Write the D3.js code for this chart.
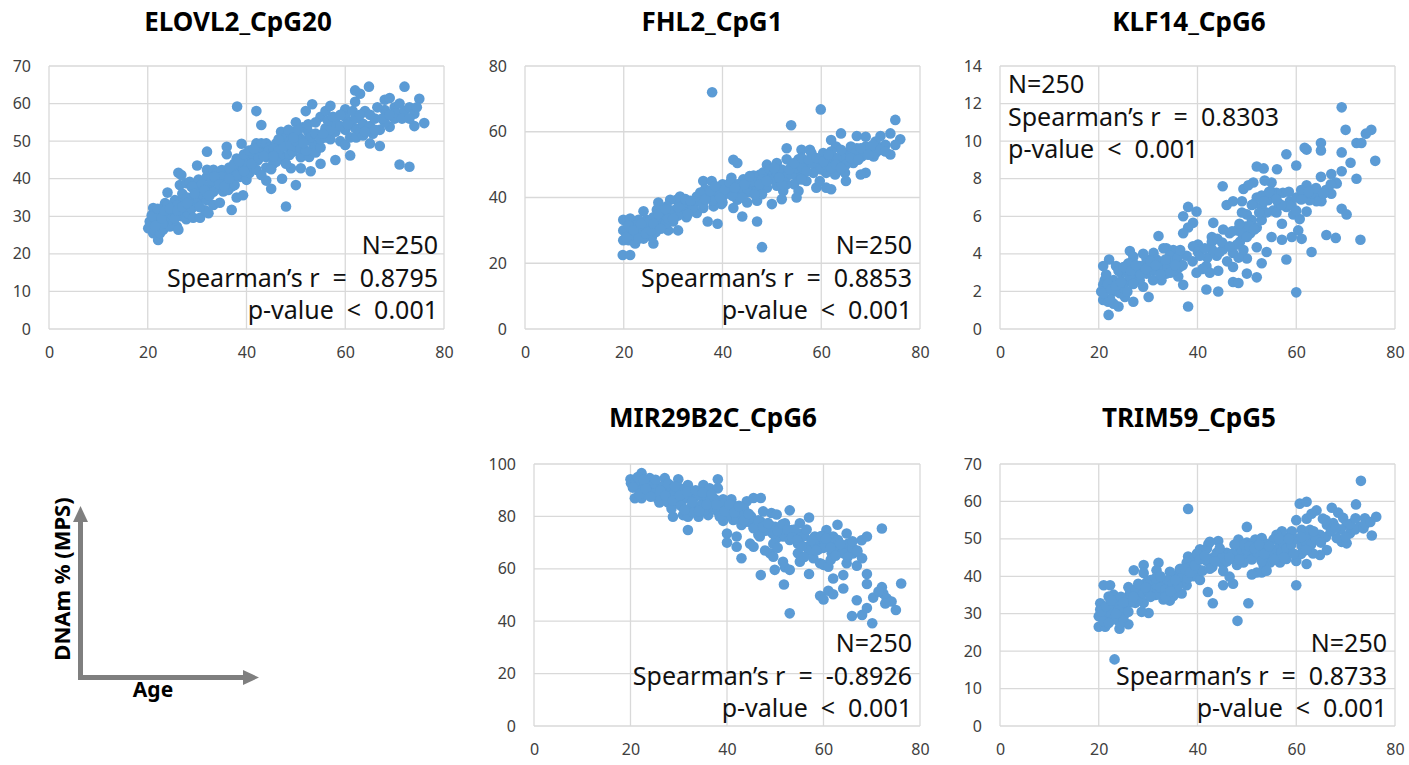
<!DOCTYPE html>
<html>
<head>
<meta charset="utf-8">
<script src="https://cdn.jsdelivr.net/npm/d3@7"></script>
<style>
  body { margin: 0; background: #fff; }
  text { font-family: "Noto Sans", "Open Sans", sans-serif; }
</style>
</head>
<body>
<svg id="chart" width="1409" height="765"></svg>
<script>
// panel titles, axis maxima and stats
const titles = ['ELOVL2_CpG20', 'FHL2_CpG1', 'KLF14_CpG6', 'MIR29B2C_CpG6', 'TRIM59_CpG5'];
const yMax = [70, 80, 14, 100, 70];
const yStep = [10, 20, 2, 20, 10];
const xTicks = [0, 20, 40, 60, 80];
const nLabel = 'N=250';
const rhoValues = ['0.8795', '0.8853', '0.8303', '-0.8926', '0.8733'];
const pLabel = 'p-value  <  0.001';

// [age, DNAm %]
const elovl2Pts = [
  [20.1,26.8],[20.4,28.6],[20.8,30.3],[21.1,32.2],[21.1,25.5],[21.4,26.4],[21.9,29.5],[22.1,23.7],[22.5,28.2],[22.5,30.8],
  [22.5,25.5],[23.1,26.4],[23.1,31.7],[23.5,33.5],[23.8,29],[24.2,30],[24,36.3],[24.5,27.3],[25.2,31.3],[25.2,28.6],
  [25.5,34.3],[25.9,27.3],[26.2,26.4],[26.2,41.6],[26.5,32.6],[26.5,38.3],[26.8,41],[26.8,30],[27.2,34.3],[27.5,31.6],
  [27.8,38.8],[27.8,29.2],[28.2,30.8],[28.5,39.2],[28.9,37.8],[28.9,32.1],[29.2,29.6],[29.2,34.3],[30,36.5],[30.3,34.3],
  [30.3,39.8],[30,43.5],[30.6,37.8],[30.6,29.6],[31.2,35.6],[31.6,31.6],[32,34.3],[32,40.6],[32,42.4],[32,47.2],
  [32.3,30.8],[32.6,38.3],[33.3,42.4],[33.3,33],[33.3,36.5],[34,41.5],[34,39.3],[34.6,33.6],[34.6,37.4],[34.6,41.1],
  [35,42.3],[35.3,36.6],[36,39.7],[36,48.5],[36,46.5],[36.3,37],[36.6,41.5],[37,31.7],[37,37.9],[37.3,39.7],
  [37.3,42.4],[37.6,38.3],[38,35],[38,45.4],[38.1,59.2],[38.3,43.2],[38.7,40.5],[39,41.5],[39,49.3],[39.3,35.6],
  [39.3,44.5],[40,39.7],[40,45.8],[40.3,43.6],[40.6,41.5],[41.3,45.8],[41.3,43.2],[41.3,46.6],[42,42.4],[42,49.4],
  [42,58],[42.3,44.9],[43,49.4],[43,54.3],[43.4,47.5],[44,43],[44,45.8],[44,49.4],[44.7,46.6],[44.7,48.4],
  [45,37.3],[45.4,44],[46,47],[46,49.4],[46.7,45.8],[47,52.5],[47.2,40],[47.4,45.8],[47.4,50],[48,32.6],
  [48,48.5],[48,51],[48.7,46.3],[48.7,50],[49,42.8],[49.4,52.5],[49.4,47.2],[50,38.3],[50,48.5],[50,55],
  [50.7,51],[51,45.7],[51,42.8],[51.4,53.7],[52,50.2],[52,58],[52.5,52.5],[52.7,45.8],[53,42],[53.3,59.8],
  [53.5,49.3],[53.5,47.5],[54,47],[55,44],[55,48.3],[55,56.5],[56,58],[56,53.4],[57,59.4],[57,50.5],
  [58,45],[58,52.5],[59,50],[60,49],[60,53],[60,58.5],[60,56.4],[61,46.2],[61,51],[62,53.4],
  [62,63.5],[62,60.5],[62.2,51],[63,62.6],[63,52.5],[63.6,54.6],[63.6,51.5],[64,58],[64.8,64.5],[65,54],
  [65,49.4],[65.6,52],[66,56],[67,53],[67,48.7],[68,61],[68,58.3],[69,61.5],[69,53.8],[70,59],
  [70.3,57.5],[71,43.8],[72,64.5],[72,58],[73,59],[73,43.2],[74,57.3],[74,54],[75,61.3],[76,54.8],
  [21,30],[22,32],[23,28],[24,33],[25,30.5],[26,33],[27,36],[28,35],[29,38],[31,38.5],
  [33,39.5],[35,40.5],[36.5,43],[38,41],[39.5,42],[41,44],[42.5,47],[44.5,47.5],[45.5,48],[46.5,47.5],
  [47.5,48.5],[49,49],[50,50],[51,48],[52,47.5],[53,51],[54,52],[55,50.5],[56,51],[57,53],
  [58,55],[59,54],[61,55],[62,56],[64,52.5],[66,53],[68,55],[70,56],[48,44],[46,44.5],
  [45,42.5],[43,41],[44,39.5],
  [21.5,27.5],[22.8,29.5],[23.5,31.5],[24.5,32],[25.5,29.5],[26,31.5],[27,32.5],[28,33.5],[29.5,36],[30.5,32.5],
  [31.5,37],[32.5,35.5],[33.5,40.5],[34.5,38.5],[35.5,38],[36.5,40],[37.5,44],[38.5,44.5],[39.5,46.5],[40.5,47.5],
  [41.5,48],[42.5,45.5],[43.5,46],[45.5,46],[46.5,50.5],[48.5,53],[49.5,51],[50.5,53],[51.5,49.5],[52.5,54.5],
  [54,55],[55.5,52],[56.5,55.5],[57.5,56.5],[59,57],[60.5,54.5],[61.5,58],[63,57],[65,57],[66.5,59],
  [67.5,56],[69,57],[71,60],[71.5,56],[73,56],[74.5,59]
];

const fhl2Pts = [
  [37.9,72],[59.9,66.8],[53.9,62],[75,63.6],[76,57.7],[74,59.5],[74,53.1],[72,58.7],[71,57],[69,58.5],
  [67.2,58.7],[64,59.5],[62,57.5],[67.2,55],[69,55.5],[70,54],[71.3,55],[72.6,55.5],[68.2,52.5],[66.5,50.5],
  [69,47.5],[68,47],[65,45],[64.8,47.5],[63,55.5],[65,53.5],[60.4,53.5],[61.8,51.6],[59,43],[61,43],
  [62,42.5],[61,47.5],[62.8,47],[59,49.5],[57,50],[56,54.5],[57.7,54.5],[53,55],[55.4,51.6],[54,49.5],
  [53,51.6],[49,50],[51,50.5],[56.4,47.5],[55,46.5],[54.5,44],[55.4,42],[55,40],[52.3,42],[52,39.5],
  [50,38],[53,44],[51,45],[49.3,46],[47.6,47],[47,44.5],[46.3,43],[47,39],[47,32.7],[48,24.9],
  [44,34.2],[43,39.3],[42.2,36.8],[42.2,51.5],[43,50.5],[41.8,46],[45,44],[45,38.5],[43.5,42],[44.2,45.5],
  [40.2,43.3],[39.8,38],[38.8,41.3],[38.2,37.3],[36.1,45],[37.8,45],[37,32.7],[39,32],[36.1,39.3],[34.8,40.3],
  [34.1,38.3],[33.4,36.3],[32,35.3],[32.7,34],[31,30],[29,30],[31.4,40.3],[30.7,39.3],[29.4,39.3],[28.7,37.3],
  [27,38.5],[26.7,36.3],[29,34.2],[30,32.7],[26,26],[25.7,28],[24,35.8],[24.6,33.2],[23,33.2],[21.9,31],
  [21.3,29],[21,27],[19.9,33.2],[21.3,33.6],[19.9,30],[19.9,27],[19.8,22.5],[21.3,22.5],[22.3,26],[23.3,28],
  [25.3,31],[27.7,33.2],[34.8,35.3],[36.1,36.8],[37.5,40.3],[40.9,41.6],[40.2,40.6],[42.2,42.6],[46.3,46.7],[48.3,47.7],
  [49.6,48.6],[50.3,47],[51,43.6],[53,47.5],[52.3,45.5],[57,45],[58.4,47.5],[59.7,45],[63.8,50.5],[64.5,52.5],
  [65.8,52.5],[70.6,52.5],
  [22,28.5],[23.5,30],[24.5,30.5],[25,32.5],[26,34],[27,33],[28,35],[28.5,32],[30,36],[31,34.5],
  [32,37.5],[33,38.5],[34,37],[35,39],[36,38],[37,40.5],[38,39],[39,42],[40,38.5],[41,43],
  [42,40.5],[43,44],[44,42.5],[45,41.5],[46,45],[47,42],[48,45.5],[49,43],[50,45.5],[51,47.5],
  [52,48.5],[53,46.5],[54,47],[55,49],[56,49.5],[57,48],[58,50.5],[60,48.5],[61,50],[62,49],
  [63,52],[64,54.5],[66,55.5],[67,53.5],[68,55],[70,55.5],[71,53.5],[73,56],[22.5,31.5],[24,27.5],
  [26.5,29.5],[29,33.5],[33,35],[36.5,42.5],[40,44],[44,40],[48,41],[52,44],[56,45.5],[58,53.5],
  [62,54],[65,50],
  [20.5,28],[21,31.5],[22,30],[23,27.5],[23.5,32],[24.5,29],[25.5,30],[26,32],[27,35],[27.5,30.5],
  [28.5,36.5],[30,33.5],[31,37],[32.5,39.5],[33.5,39],[35.5,41.5],[36.5,39.5],[37.5,42],[38.5,43.5],[39.5,40],
  [40.5,42.5],[41.5,44.5],[42.5,43],[44.5,44],[45.5,46.5],[46.5,41],[47.5,44],[49,45],[50.5,49],[51.5,46],
  [53.5,48.5],[54.5,50.5],[56,52],[57.5,51.5],[59,52],[60.5,51],[61.5,53],[63,50],[64,49],[66,52],
  [67.5,51.5],[69.5,53],[70.5,56],[72,54.5],[73,54],[75,56]
];

const klf14Pts = [
  [69.2,11.8],[70,10.6],[74.1,10.4],[75.2,10.6],[72.2,9.9],[73.2,9.9],[76,8.95],[71,8.85],[69.2,9.4],[69.2,8.4],
  [65,9.9],[65,9.5],[62.1,9.55],[61.7,9.65],[58,9.3],[60,8.7],[56.1,8.5],[52,8.65],[53.4,8.55],[65,8.1],
  [67.1,8.25],[68.2,7.75],[72.2,8],[67.1,7.2],[62.1,7.65],[64.1,7.1],[65.1,6.8],[64.1,6.8],[62.7,6.85],[61.7,7.2],
  [58.7,6.8],[58,6.5],[57.3,7.25],[56,7.25],[55,7.8],[53.6,7.9],[51.3,7.8],[49.3,7.45],[50.3,7.65],[52,7],
  [51.3,6.65],[53,6.55],[55.3,6.3],[50,6.1],[51,5.8],[53,5.8],[54.3,6.85],[56.4,6.7],[57.1,5.6],[57.1,4.75],
  [59.1,4.9],[60.4,5.25],[61.1,4.8],[58,3.7],[60,1.95],[63.1,4.1],[66.1,5],[68,4.85],[73,4.75],[69.2,6.4],
  [70.2,6.1],[59.4,6.1],[60.7,5.85],[62.1,6.25],[55,4.9],[54,4.1],[53,3.5],[52,4.35],[52,2.75],[50,2.95],
  [50,3.75],[50.7,5.1],[48,5.25],[49,5.1],[49.7,5.45],[48.6,4.65],[49.3,4.2],[47.2,4.05],[47.2,3.3],[48.3,3.8],
  [47.2,2.5],[48.3,2.45],[46.5,5.1],[45.2,5.3],[45.1,7.6],[45.9,6.6],[47.2,6.8],[49,6.8],[43.2,5.65],[42.9,4.9],
  [42.9,4.65],[44.2,3.1],[41.8,2.1],[44.2,2],[45.2,4.25],[43.9,3.9],[41.8,3.35],[42.5,3],[40.1,4.5],[39.1,4.4],
  [40.1,4.1],[39.8,6.25],[38.1,6.5],[39.1,5.65],[38.1,5.4],[37.1,6],[37.1,5.1],[37.8,3.9],[39.8,3],[38.1,1.2],
  [37.1,2.35],[36.1,2.8],[35.1,4.2],[33.7,4.3],[33.1,4.3],[32.1,4.95],[34.4,3.5],[33.7,2.95],[32.7,2.6],[31.1,4.05],
  [29.7,3.7],[30.1,1.7],[29,2.25],[28.3,3.35],[27.7,2.8],[26.3,4.15],[27,3.85],[25.6,3.35],[24.6,2.95],[27,1.45],
  [25.3,1.7],[24,1.2],[22,0.75],[22.1,3.7],[20.9,3.35],[23.5,3.35],[21.2,2.6],[20.9,2.35],[20.9,1.55],[21.9,1.45],
  [21.6,2.25],[23,2],[23,1.35],[22.3,1.6],[24.3,1.9],[25.3,2.45],[26.3,2.8],[28.3,2.6],[29.7,2.95],[31.1,3.1],
  [32.4,3.3],[35.1,3.1],[36.4,3.3],[29,3.35],[31.7,3.7],[34.4,3.9],
  [21.5,2.9],[23,2.6],[24,3.1],[25,2.2],[26,3.5],[27,2.4],[28,3.1],[29,4],[30,3.3],[31,2.6],
  [32,3.6],[33,3.1],[34,3.3],[35,3.6],[36,3.8],[37,3.4],[42,3.8],[43,4.2],[44,4.8],[46,3.6],
  [47,5.2],[48,4.5],[49,6.2],[50,4.9],[51,6.6],[52,5.4],[53,7.1],[54,6.2],[55,7.3],[56,6.2],
  [57,6.6],[59,6.6],[60,7],[61,7.4],[63,7.2],[64,7.5],[66,7.4],[68,7.8],[39,3.6],[41,3.2],
  [45,4.6],
  [20.5,2],[21,1.9],[21.8,2.4],[22.5,2.1],[23.5,2.3],[24.5,2.5],[25,3.3],[25.8,2],[26.5,3.1],[27.5,3.4],
  [28.5,2.9],[29.5,3.2],[30.5,3.6],[31.5,3.4],[32.5,2.9],[33.5,3.7],[34.5,3],[35.5,3.4],[36.5,4.2],[40.5,3.9],
  [41.5,4.3],[44.5,4.1],[46.5,4.4],[48.5,5.6],[50.5,5.5],[51.5,5.3],[52.5,6.2],[53.5,6.8],[54.5,7.3],[56,6.9],
  [58.5,7.3],[60,6.3],[61,6.9],[62.5,7.3],[65.5,7.2],[67,7.7]
];

const mir29Pts = [
  [20,94.2],[20.1,92.7],[20.9,86.9],[22.3,86.9],[22.3,96.5],[21.2,91.5],[24,94.6],[24,91.5],[25.4,90.3],[25.7,86.5],
  [27.1,94.6],[28.1,92],[28.8,90.3],[29.9,94.2],[30.9,90.3],[31.9,92],[26,85.3],[27.8,85.3],[28.8,79.9],[30.9,80.5],
  [31.9,74.8],[31.9,79.9],[33.7,83.7],[35.1,85.3],[35.1,92],[36.4,90.7],[38.1,94.2],[38.1,90.7],[34.1,79.9],[36.1,80.5],
  [35.7,87.7],[37.5,86.5],[39.2,86.5],[40.9,86.5],[44.1,85.8],[45.5,87],[47,87],[38.9,83.4],[40,81.4],[39.2,78.3],
  [42,81.9],[43.5,83.1],[41.3,78.6],[43,76.7],[45.1,77.4],[40,73.5],[40,70],[42,72.3],[42,68.4],[43,64],
  [44.8,69.6],[45.5,68.4],[47,57.6],[46.8,72.3],[47.5,81.9],[49.2,81.3],[50.3,80.7],[47.9,67],[48.9,65.9],[49.6,64.6],
  [49.9,59.6],[51.6,62.7],[52,60.6],[53,59.6],[51.8,54],[53,43],[53,82.3],[52,77.4],[53.4,74.8],[51.6,72.3],
  [50.2,71.6],[49.6,69.6],[54.1,72.3],[55.1,77.4],[55.5,73.5],[57,79.6],[54.7,69.6],[54.7,65.9],[55.1,62.7],[56.5,68.4],
  [57.9,68.4],[57,58],[58.2,72.3],[59.6,70.4],[57.9,64],[59.3,62.1],[60,61.5],[61,60.8],[59.3,49.7],[60,48.3],
  [61,51.6],[62,50.3],[62,56.3],[64.1,52.5],[64.1,57.6],[60.6,74.8],[62,72.3],[62.9,76.8],[62.7,69],[63.8,67],
  [64.8,73.5],[65.1,69.6],[66.2,65.9],[64.8,62.1],[66.9,61.2],[61,69.6],[61.7,65.9],[67.9,70.9],[69,72.3],[72.1,75.4],
  [69,58],[69,54.2],[66.9,48],[65.9,42],[68,42.4],[69,45],[70.1,39.2],[70.3,49],[72.1,53],[72.4,50.6],
  [73.1,48.7],[74.1,47.5],[72.8,46.8],[75,44.3],[76.1,54.4],[71.4,51.3],[65.5,67],
  [21,93],[22,90],[23,92.5],[23.5,88.5],[24.5,89],[25,92.5],[26,88],[27,90.5],[28,87.5],[29,88.5],
  [29.5,85],[30,91],[31,86.5],[32,88.5],[32.5,83.5],[33,86.5],[34,88],[34.5,84],[35.5,82.5],[36.5,86],
  [37,83.5],[38,82],[39,85],[40,83],[41,80],[42,79],[43,80.5],[44,78],[45,80],[46,76],
  [47,78],[48,74.5],[49,76.5],[50,76],[51,74],[52,72.5],[53,71],[54,75],[55,70.5],[56,72.5],
  [57,67],[58,70],[59,67.5],[60,68],[62,67],[63,71],[64,66],[66,68],[67,66.5],[68,64],
  [26.5,91.5],[28.5,83],[33,81.5],[41.5,84],[46.5,73],[50.5,68],[56,64.5],[61.5,63.5],
  [20.5,91],[21.5,95],[21.8,88.5],[22.8,94],[23.2,90.5],[24.2,87.5],[25.2,94],[26.2,90],[27.2,88],[27.8,92.5],
  [28.8,86],[29.2,91.5],[30.2,88],[30.5,84],[31.2,82.5],[31.8,89.5],[32.8,85.5],[33.5,90],[34.2,82],[35,89],
  [35.8,84.5],[36.8,88.5],[37.8,84.5],[38.5,80],[39.5,82],[40.5,84.5],[41.5,81.5],[42.5,84],[43.5,78.5],[44.5,81],
  [45.5,75.5],[46.5,78.5],[47.5,76],[48.5,77.5],[49.5,73.5],[50.5,74.5],[51.5,77],[52.5,75],[53.5,72],[54.5,71],
  [55.5,68.5],[56.5,75],[57.5,71],[58.5,67],[59.5,72.5],[60.5,71.5],[61.5,68],[62.5,65],[63.5,69.5],[65,64.5],
  [66,70.5],[67,67]
];

const trim59Pts = [
  [73.1,65.5],[72.1,59.2],[76.2,55.9],[75.3,50.9],[73.9,55.5],[72.9,53.3],[70.9,51.5],[69.2,49.2],[68.2,50.2],[67.2,58.3],
  [68.5,57],[69.5,55.6],[70.2,53.8],[67.5,54.2],[66.2,53.8],[64.1,57.6],[65.4,55.4],[64.8,51.1],[66.2,47],[64.8,45.7],
  [63.4,46.1],[60.7,59.4],[62.1,59.9],[60,55],[62.1,55.4],[61.1,52.4],[62.4,50.7],[60,44.1],[62.1,43.3],[60,37.6],
  [61.1,48.1],[62.1,49],[59.1,52],[58.1,50.2],[57.1,52],[56,51.1],[56.7,48.1],[58.1,46.3],[55.4,45.5],[54.7,43.7],
  [53.4,42.8],[53,41],[52,41],[51,40.5],[50.3,32.8],[50,53.2],[48.3,49.8],[48.6,48.1],[48.3,46.3],[50,49],
  [51.7,49.8],[53,50.2],[54,48.6],[55.4,49.8],[50,45.5],[51.3,46.3],[52.7,45.5],[49.3,43.7],[47.3,44.6],[45.9,46.3],
  [44.2,49.4],[42.2,48.6],[40.5,47.2],[43.2,45],[41.9,44.1],[45.2,43.2],[45.2,41.4],[45.2,37.6],[47.2,38],[46.5,39.9],
  [48.1,28.1],[43.1,32.8],[42.1,35.8],[38.1,58],[38.1,45.3],[39.2,44.4],[39.9,46.1],[37.8,43.6],[36.4,41.8],[39.2,40],
  [37.8,37.6],[39.9,40],[40.5,39],[36.8,35.4],[35.4,36.7],[35.1,40],[34.4,41.2],[33.8,38.8],[32.1,43.6],[31.7,41.6],
  [32.4,38.4],[31.1,37.5],[34.4,33.5],[33.1,33.8],[29.1,43],[29.1,40.9],[27.1,41.6],[29.7,38.4],[28.4,36.7],[26,37.1],
  [26.3,35.4],[29.1,32.9],[30.1,30.2],[28.7,30.5],[27.4,32.9],[26,27.2],[24.2,26],[24.3,27.6],[25,31],[25.7,32.9],
  [23,35.1],[23.6,33.5],[21,37.6],[22.3,37.6],[22,34.6],[20.3,32.8],[20.3,31.1],[20,29.3],[20,26.5],[21.3,26.5],
  [21.6,29.3],[23,30.2],[23.2,17.8],[21,31.1],[22.3,31.9],[24.3,31.9],[24.6,29.2],[32.4,35.6],[35.1,34.7],[37.1,38.4],
  [36.4,39.9],[41.9,47.4],[42.5,49.2],[43.9,46.3],[52,47.9],[53.4,47],[54.7,46.3],[56,47.2],[57.4,48.9],[58.7,48.1],
  [58,44.6],[56.7,43.7],[54,41.5],[62.8,52.4],[63.1,56.7],[71.9,52.5],[70.2,48.8],[73.6,52.8],
  [21.5,28.5],[22.5,30],[23,28.5],[24,31],[25,29],[25.5,34],[26.5,33],[27.5,36.5],[28,34],[29,35.5],
  [30,36],[30.5,39],[31.5,35],[32.5,37],[33.5,36.5],[34,39],[35,38],[36,37.5],[37,40.5],[38,39.5],
  [38.5,42.5],[40,42],[41,41.5],[42,44.5],[43,42.5],[44,44],[45,45],[46,44],[47,46],[48,43],
  [49,47],[50,47],[51,44.5],[52,46.5],[53,44],[54,46],[55,47],[56,45],[57,46.5],[58,47.5],
  [59,48.5],[60,50],[61,46],[63,48.5],[64,50],[66,50.5],[67,52],[69,52.5],[71,54],[74,54],
  [20.5,30.5],[21,28],[21.5,32],[22,27.5],[22.5,33.5],[23.5,30],[24.5,34.5],[25,33],[26,30.5],[27,34.5],
  [28,38],[29.5,37],[30.5,34.5],[31.5,39.5],[32.5,40],[33.5,34.5],[34.5,36],[35.5,39],[36.5,42],[37.5,42],
  [38.5,41],[39.5,43],[40.5,44.5],[41.5,45.5],[42.5,42],[43.5,44],[44.5,47.5],[46.5,45],[47.5,48.5],[48.5,44.5],
  [49.5,48.5],[50.5,48],[51.5,47.5],[52.5,48.5],[53.5,46],[54.5,48],[55.5,44.5],[56.5,50],[57.5,45],[58.5,50],
  [59.5,46],[61,50.5],[62,47],[63.5,52],[65,49],[66,55],[68,53],[70,50.5],[72,55.5],[75,54.5]
];

const seriesPts = [elovl2Pts, fhl2Pts, klf14Pts, mir29Pts, trim59Pts];

const layout = [
  { left: 49,   right: 444,  top: 66,  bottom: 329, titleX: 238,  titleY: 31,  statX: 438,  statY: 254, align: 'end' },
  { left: 525,  right: 920,  top: 66,  bottom: 329, titleX: 712,  titleY: 31,  statX: 912,  statY: 254, align: 'end' },
  { left: 1000, right: 1395, top: 66,  bottom: 329, titleX: 1189, titleY: 31,  statX: 1008, statY: 93,  align: 'start' },
  { left: 534,  right: 920,  top: 464, bottom: 726, titleX: 713,  titleY: 427, statX: 912,  statY: 652, align: 'end' },
  { left: 1000, right: 1395, top: 464, bottom: 726, titleX: 1189, titleY: 427, statX: 1387, statY: 652, align: 'end' }
];

const svg = d3.select('#chart');
const gridColor = '#d9d9d9';
const dotColor = '#5b9bd5';

titles.forEach((title, i) => {
  const box = layout[i];
  const x = d3.scaleLinear().domain([0, 80]).range([box.left, box.right]);
  const y = d3.scaleLinear().domain([0, yMax[i]]).range([box.bottom, box.top]);
  const yTicks = d3.range(0, yMax[i] + yStep[i] / 2, yStep[i]);

  const g = svg.append('g');

  // gridlines (they also form the plot border)
  g.selectAll('.hgrid').data(yTicks).enter().append('line')
    .attr('x1', box.left).attr('x2', box.right)
    .attr('y1', d => y(d)).attr('y2', d => y(d))
    .attr('stroke', gridColor).attr('stroke-width', 1.3);
  g.selectAll('.vgrid').data(xTicks).enter().append('line')
    .attr('x1', d => x(d)).attr('x2', d => x(d))
    .attr('y1', box.top).attr('y2', box.bottom)
    .attr('stroke', gridColor).attr('stroke-width', 1.3);

  // axes without domain lines, just labels
  const yAxis = g.append('g')
    .attr('transform', `translate(${box.left - 10},0)`)
    .call(d3.axisLeft(y).tickValues(yTicks).tickSize(0).tickPadding(8));
  const xAxis = g.append('g')
    .attr('transform', `translate(0,${box.bottom + 10})`)
    .call(d3.axisBottom(x).tickValues(xTicks).tickSize(0).tickPadding(8));
  [xAxis, yAxis].forEach(ax => {
    ax.select('.domain').remove();
    ax.selectAll('text')
      .style('font-family', '"Noto Sans", sans-serif')
      .style('font-size', '16px')
      .attr('fill', '#404040');
  });

  // points
  g.selectAll('circle').data(seriesPts[i]).enter().append('circle')
    .attr('cx', d => x(d[0]))
    .attr('cy', d => y(d[1]))
    .attr('r', 5.3)
    .attr('fill', dotColor);

  // title
  svg.append('text')
    .attr('x', box.titleX).attr('y', box.titleY)
    .attr('text-anchor', 'middle')
    .style('font-size', '26px')
    .style('font-weight', 'bold')
    .text(title);

  // stats block
  const lines = [nLabel, `Spearman’s r  =  ${rhoValues[i]}`, pLabel];
  svg.append('g').selectAll('text').data(lines).enter().append('text')
    .attr('x', box.statX)
    .attr('y', (d, k) => box.statY + k * 32.5)
    .attr('text-anchor', box.align)
    .style('font-size', '25px')
    .style('white-space', 'pre')
    .attr('fill', '#111')
    .text(d => d);
});

// axis key in the lower left
const key = svg.append('g');
const keyColor = '#7f7f7f';
key.append('line').attr('x1', 80.5).attr('y1', 680).attr('x2', 80.5).attr('y2', 520)
  .attr('stroke', keyColor).attr('stroke-width', 5);
key.append('line').attr('x1', 78).attr('y1', 677.5).attr('x2', 244).attr('y2', 677.5)
  .attr('stroke', keyColor).attr('stroke-width', 5);
key.append('path').attr('d', 'M73,522 L80.5,506 L88,522 Z').attr('fill', keyColor);
key.append('path').attr('d', 'M243,670 L259,677.5 L243,685 Z').attr('fill', keyColor);
key.append('text')
  .attr('transform', 'translate(70,579) rotate(-90)')
  .attr('text-anchor', 'middle')
  .style('font-size', '22px').style('font-weight', 'bold')
  .text('DNAm % (MPS)');
key.append('text')
  .attr('x', 153).attr('y', 697)
  .attr('text-anchor', 'middle')
  .style('font-size', '21px').style('font-weight', 'bold')
  .text('Age');
</script>
</body>
</html>
